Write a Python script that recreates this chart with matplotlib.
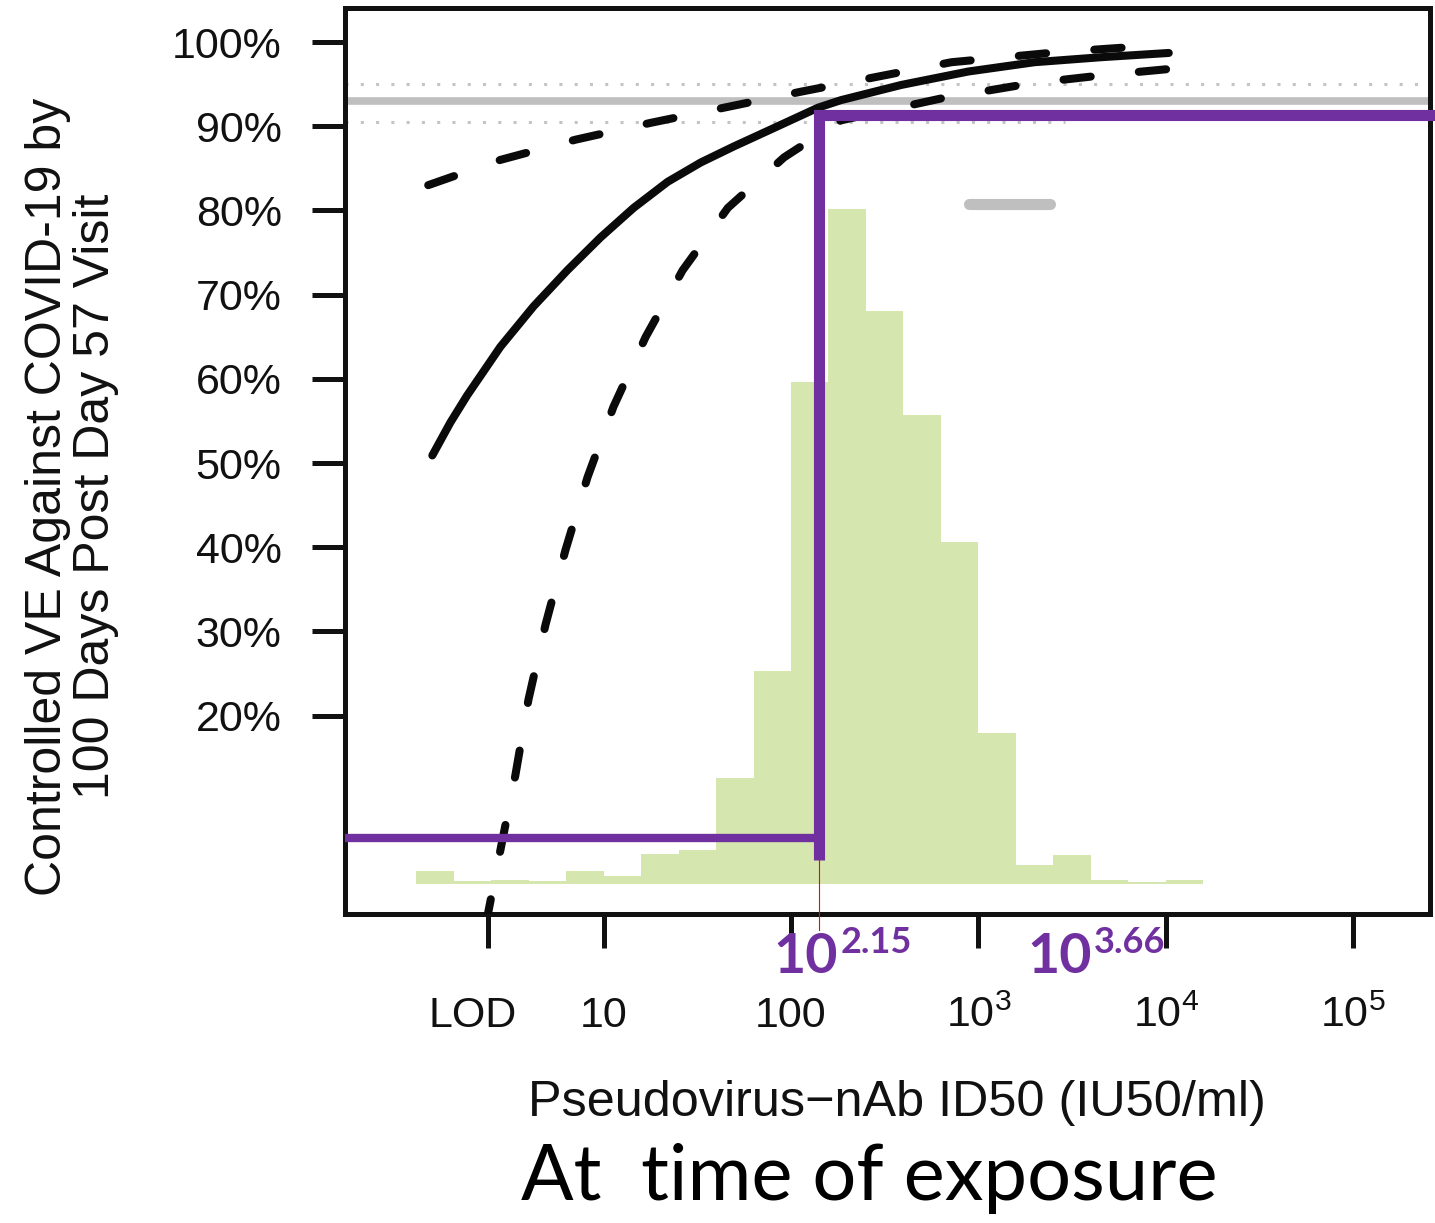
import numpy as np
import matplotlib.pyplot as plt
import matplotlib.transforms as mtransforms

plt.rcParams['font.family'] = 'Liberation Sans'
plt.rcParams['mathtext.fontset'] = 'custom'
plt.rcParams['mathtext.rm'] = 'Liberation Sans'
plt.rcParams['mathtext.it'] = 'Liberation Sans:italic'

# histogram of log10 titers (bin left edges, bar heights on the VE scale)
bin_left = [0.0, 0.2, 0.4, 0.6, 0.8, 1.0, 1.2, 1.4, 1.6, 1.8, 2.0,
            2.2, 2.4, 2.6, 2.8, 3.0, 3.2, 3.4, 3.6, 3.8, 4.0]
hist_height = [1.6, 0.3, 0.5, 0.3, 1.6, 0.9, 3.6, 4.1, 12.6, 25.3, 59.6,
               80.2, 68.1, 55.7, 40.6, 17.9, 2.3, 3.4, 0.5, 0.2, 0.5]

# controlled VE curve (log10 titer, VE %)
ve_x = [0.086, 0.182, 0.271, 0.449, 0.626, 0.807, 0.984, 1.160, 1.342, 1.519, 1.695,
        1.920, 2.144, 2.267, 2.588, 2.947, 3.299, 3.658, 4.016]
ve_y = [50.9, 54.8, 58.0, 63.8, 68.6, 72.9, 76.8, 80.3, 83.4, 85.7, 87.6,
        89.9, 92.2, 93.1, 94.9, 96.5, 97.6, 98.2, 98.7]

upper_x = [0.064, 0.449, 0.850, 1.251, 1.642, 2.053, 2.856, 3.428, 3.818, 4.016]
upper_y = [83.0, 86.0, 88.4, 90.4, 92.2, 94.1, 97.6, 98.8, 99.4, 99.6]

lower_x = [0.37, 0.449, 0.529, 0.599, 0.690, 0.797, 0.914, 1.053, 1.225, 1.422,
           1.663, 1.963, 2.267, 2.802, 3.283, 3.684, 4.021]
lower_y = [-5.0, 4.0, 12.9, 21.9, 30.8, 39.7, 48.3, 56.7, 65.0, 72.9,
           80.3, 86.3, 90.7, 93.3, 95.1, 96.1, 96.8]

# overall VE and its CI
ve_overall = 93.0
ve_ci = [90.5, 95.0]
seg_x = [2.95, 3.38]
seg_y = 80.8

# purple threshold marks
thr_log = 2.15
thr_ve_top = 91.3
thr_ve_low = 5.5
thr_bottom = 2.85

xticks = [0.384, 1, 2, 3, 4, 5]
xticklabels = ['LOD', '10', '100', r'$10^3$', r'$10^4$', r'$10^5$']
yticks = [20, 30, 40, 50, 60, 70, 80, 90, 100]

purple = '#7030a0'
gray = '#bfbfbf'

fig = plt.figure(figsize=(14.35, 12.23), dpi=100)
ax = fig.add_axes([345 / 1435, 1 - 914 / 1223, (1430 - 345) / 1435, (914 - 8) / 1223])
xmin, xmax = -0.38, 5.41
ax.set_xlim(xmin, xmax)
ax.set_ylim(-3.56, 104.04)

ax.bar(bin_left, hist_height, width=0.2, align='edge', color='#d5e6ae',
       edgecolor='none', zorder=1)

ax.axhline(ve_overall, color=gray, lw=5.5, zorder=2)
ax.axhline(ve_ci[1], color='#c4c4c4', lw=2.2, ls=(0, (1, 4)), zorder=2)
ax.plot([xmin, 3.46], [ve_ci[0], ve_ci[0]], color='#c4c4c4', lw=2.2,
        ls=(0, (1, 4)), zorder=2)
ax.plot(seg_x, [seg_y, seg_y], color=gray, lw=8, solid_capstyle='round', zorder=2)

ax.plot(ve_x, ve_y, color='#0a0a0a', lw=5.8, solid_capstyle='round',
        solid_joinstyle='round', zorder=3)
ax.plot(upper_x, upper_y, color='#0a0a0a', lw=5.8, dashes=(3.4, 6.0),
        dash_capstyle='round', zorder=3)
ax.plot(lower_x, lower_y, color='#0a0a0a', lw=5.8, dashes=(3.4, 6.0),
        dash_capstyle='round', zorder=3)

ax.plot([thr_log, thr_log, 5.6], [thr_bottom, thr_ve_top, thr_ve_top], color=purple,
        lw=8, solid_joinstyle='miter', solid_capstyle='butt', clip_on=False, zorder=4)
ax.plot([xmin, thr_log], [thr_ve_low, thr_ve_low], color=purple, lw=6,
        solid_capstyle='butt', zorder=4)
ax.plot([thr_log, thr_log], [thr_bottom, -5.5], color='red', lw=0.8,
        clip_on=False, zorder=4)

tr = ax.get_xaxis_transform()
for split, expo in [(2.251, '2.15'), (3.604, '3.66')]:
    ax.text(split, -0.0651, '10', transform=tr, ha='right', va='baseline',
            fontsize=40, fontweight='bold', color=purple, family='Lato')
    ax.text(split + 0.012, -0.043, expo, transform=tr, ha='left', va='baseline',
            fontsize=26, fontweight='bold', color=purple, family='Lato')

for s in ax.spines.values():
    s.set_linewidth(3.6)
    s.set_color('#111111')

ax.set_xticks(xticks)
ax.set_xticklabels(xticklabels)
ax.set_yticks(yticks)
ax.set_yticklabels(['%d%%' % v for v in yticks])
ax.tick_params(axis='x', length=24.5, width=3.6, pad=57, labelsize=31,
               colors='#111111')
ax.tick_params(axis='y', length=24, width=3.6, pad=21.6, labelsize=31,
               colors='#111111')
for lbl in ax.get_xticklabels():
    lbl.set_va('baseline')
lod = ax.get_xticklabels()[0]
lod.set_transform(lod.get_transform() +
                  mtransforms.ScaledTranslation(-0.16, 0, fig.dpi_scale_trans))

fig.text(0.050, 0.594, 'Controlled VE Against COVID-19 by\n100 Days Post Day 57 Visit',
         rotation=90, ha='center', va='center', fontsize=36, linespacing=1.05,
         multialignment='center', color='#111111')
fig.text(897 / 1435, 1 - 1103 / 1223, 'Pseudovirus\u2212nAb ID50 (IU50/ml)',
         ha='center', va='center', fontsize=36.3, color='#111111')
fig.text(869 / 1435, 1 - 1200 / 1223, 'At  time of exposure', ha='center',
         va='baseline', fontsize=56, family='Lato')

fig.savefig('out.png', dpi=100)
